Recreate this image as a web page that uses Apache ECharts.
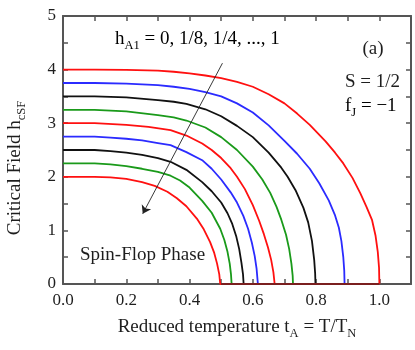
<!DOCTYPE html>
<html>
<head>
<meta charset="utf-8">
<script src="https://cdn.jsdelivr.net/npm/echarts@6/dist/echarts.min.js"></script>
<style>
  html, body { margin: 0; padding: 0; background: #fff; }
  #chart { width: 415px; height: 350px; }
</style>
</head>
<body>
<div id="chart"></div>
<script>
// critical field curves [tA, hcSF], one per hA1 value (0 ... 1, top to bottom)
const hA1Labels = ['0', '1/8', '1/4', '3/8', '1/2', '5/8', '3/4', '7/8', '1'];
const curve_0 = [[0,4.0],[0.1,4.0],[0.2,3.995],[0.3,3.98],[0.35,3.96],[0.4,3.93],[0.45,3.89],[0.5,3.84],[0.55,3.77],[0.6,3.68],[0.65,3.54],[0.7,3.37],[0.74,3.18],[0.78,2.97],[0.83,2.66],[0.86,2.45],[0.886,2.25],[0.915,1.98],[0.94,1.69],[0.96,1.43],[0.977,1.19],[0.988,0.9],[0.995,0.6],[0.999,0.3],[1.0,0]];
const curve_1 = [[0,3.75],[0.1,3.75],[0.2,3.74],[0.3,3.71],[0.35,3.68],[0.4,3.64],[0.45,3.58],[0.5,3.50],[0.55,3.37],[0.6,3.20],[0.65,2.96],[0.7,2.67],[0.74,2.43],[0.78,2.15],[0.81,1.88],[0.84,1.56],[0.86,1.28],[0.872,1.05],[0.88,0.8],[0.886,0.5],[0.889,0.25],[0.89,0]];
const curve_2 = [[0,3.5],[0.1,3.5],[0.2,3.48],[0.3,3.43],[0.35,3.40],[0.39,3.36],[0.45,3.26],[0.5,3.13],[0.55,2.95],[0.6,2.74],[0.65,2.45],[0.69,2.17],[0.71,2.0],[0.735,1.75],[0.76,1.42],[0.775,1.15],[0.787,0.8],[0.794,0.45],[0.797,0.2],[0.798,0]];
const curve_3 = [[0,3.25],[0.1,3.25],[0.2,3.22],[0.3,3.15],[0.35,3.11],[0.39,3.05],[0.45,2.92],[0.5,2.74],[0.55,2.50],[0.6,2.19],[0.63,1.95],[0.655,1.70],[0.675,1.44],[0.69,1.2],[0.705,0.92],[0.715,0.65],[0.722,0.38],[0.726,0.15],[0.727,0]];
const curve_4 = [[0,3.0],[0.1,3.0],[0.2,2.97],[0.27,2.93],[0.34,2.87],[0.39,2.77],[0.44,2.62],[0.47,2.5],[0.5,2.35],[0.53,2.16],[0.55,2.0],[0.575,1.77],[0.6,1.47],[0.62,1.18],[0.635,0.93],[0.648,0.68],[0.658,0.45],[0.665,0.22],[0.669,0]];
const curve_5 = [[0,2.75],[0.1,2.75],[0.15,2.73],[0.2,2.71],[0.25,2.68],[0.3,2.63],[0.34,2.59],[0.39,2.46],[0.44,2.31],[0.47,2.15],[0.5,1.95],[0.53,1.71],[0.55,1.52],[0.57,1.27],[0.585,1.03],[0.597,0.77],[0.606,0.52],[0.612,0.28],[0.616,0]];
const curve_6 = [[0,2.5],[0.1,2.5],[0.15,2.48],[0.2,2.45],[0.25,2.41],[0.3,2.35],[0.34,2.28],[0.39,2.13],[0.44,1.90],[0.47,1.73],[0.5,1.52],[0.52,1.32],[0.535,1.12],[0.548,0.88],[0.557,0.65],[0.564,0.4],[0.569,0.18],[0.571,0]];
const curve_7 = [[0,2.25],[0.1,2.25],[0.15,2.23],[0.2,2.20],[0.25,2.15],[0.3,2.09],[0.34,2.02],[0.37,1.93],[0.4,1.80],[0.44,1.55],[0.47,1.33],[0.497,1.03],[0.51,0.82],[0.52,0.6],[0.527,0.38],[0.531,0.18],[0.533,0]];
const curve_8 = [[0,2.0],[0.1,2.0],[0.15,1.99],[0.2,1.96],[0.25,1.9],[0.29,1.83],[0.33,1.72],[0.36,1.6],[0.39,1.45],[0.423,1.22],[0.445,1.02],[0.465,0.78],[0.478,0.58],[0.487,0.38],[0.494,0.18],[0.497,0],[0.5,0]];
const baseLine = [[0.5,0],[1.0,0]];
const arrowFrom = [0.504, 4.12];
const arrowTo = [0.252, 1.31];
const xTicks = [0, 0.2, 0.4, 0.6, 0.8, 1.0];
const yTicks = [0, 1, 2, 3, 4, 5];

const curves = [curve_0, curve_1, curve_2, curve_3, curve_4, curve_5, curve_6, curve_7, curve_8];
const colors = ['#ff1010', '#2b2bff', '#111111', '#1a9a1a', '#ff1010', '#2b2bff', '#111111', '#1a9a1a', '#ff1010'];

const font = 'Liberation Serif';
const txt = '#1e1e1e';
const axisGray = '#555';

const rich = {
    m: { fontFamily: font, fontSize: 19, color: txt, lineHeight: 26, verticalAlign: 'middle' },
    s: { fontFamily: font, fontSize: 12.5, color: txt, lineHeight: 12, verticalAlign: 'bottom' }
};

function near(v, list) {
    return list.some(t => Math.abs(t - v) < 1e-6);
}

function xAxisOf(pos) {
    return {
        type: 'value',
        position: pos,
        min: 0,
        max: 1.1,
        interval: 0.1,
        axisLine: { show: true, onZero: false, lineStyle: { color: axisGray, width: 2 } },
        axisTick: { show: true, inside: true, length: 5, lineStyle: { color: axisGray, width: 1.5 } },
        axisLabel: {
            show: pos === 'bottom',
            margin: 8,
            fontFamily: font,
            fontSize: 17,
            color: txt,
            showMaxLabel: false,
            formatter: v => near(v, xTicks) ? v.toFixed(1) : ''
        },
        splitLine: { show: false }
    };
}

function yAxisOf(pos) {
    return {
        type: 'value',
        position: pos,
        min: 0,
        max: 5,
        interval: 0.5,
        axisLine: { show: true, onZero: false, lineStyle: { color: axisGray, width: 2 } },
        axisTick: { show: true, inside: true, length: 5, lineStyle: { color: axisGray, width: 1.5 } },
        axisLabel: {
            show: pos === 'left',
            margin: 7,
            fontFamily: font,
            fontSize: 17,
            color: txt,
            formatter: v => near(v, yTicks) ? String(v) : ''
        },
        splitLine: { show: false }
    };
}

const xMain = xAxisOf('bottom');
xMain.name = '{m|Reduced temperature t}{s|A}{m| = T/T}{s|N}';
xMain.nameLocation = 'middle';
xMain.nameGap = 30;
xMain.nameTextStyle = { rich: rich };

const yMain = yAxisOf('left');
yMain.name = '{m|Critical Field h}{s|cSF}';
yMain.nameLocation = 'middle';
yMain.nameGap = 35;
yMain.nameTextStyle = { rich: rich, padding: [0, 36, 0, 0] };

const series = curves.map((c, i) => ({
    name: 'hA1 = ' + hA1Labels[i],
    type: 'line',
    data: c,
    showSymbol: false,
    smooth: false,
    lineStyle: { color: colors[i], width: 1.8 },
    z: 3
}));

series.push({
    name: 'base',
    type: 'line',
    data: baseLine,
    showSymbol: false,
    lineStyle: { color: '#7a1f1f', width: 1.8 },
    z: 4,
    markLine: {
        silent: true,
        symbol: ['none', 'arrow'],
        symbolSize: 8,
        label: { show: false },
        lineStyle: { color: '#222', width: 0.9, type: 'solid' },
        data: [[{ coord: arrowFrom }, { coord: arrowTo }]]
    }
});

const chart = echarts.init(document.getElementById('chart'), null, { renderer: 'canvas' });
chart.setOption({
    animation: false,
    backgroundColor: '#fff',
    grid: { left: 63, right: 4, top: 16, bottom: 66, outerBoundsMode: 'none' },
    xAxis: [xMain, xAxisOf('top')],
    yAxis: [yMain, yAxisOf('right')],
    graphic: [
        {
            type: 'text', x: 115, y: 26,
            style: { text: '{m|h}{s|A1}{m| = 0, 1/8, 1/4, ..., 1}', rich: rich }
        },
        {
            type: 'text', x: 373, y: 49,
            style: { text: '(a)', fontFamily: font, fontSize: 19, fill: txt, align: 'center', verticalAlign: 'middle' }
        },
        {
            type: 'text', x: 345, y: 82,
            style: { text: 'S = 1/2', fontFamily: font, fontSize: 19, fill: txt, verticalAlign: 'middle' }
        },
        {
            type: 'text', x: 345, y: 93,
            style: { text: '{m|f}{s|J}{m| = \u22121}', rich: rich }
        },
        {
            type: 'text', x: 80, y: 255,
            style: { text: 'Spin-Flop Phase', fontFamily: font, fontSize: 19, fill: txt, verticalAlign: 'middle' }
        }
    ],
    series: series
});
</script>
</body>
</html>
